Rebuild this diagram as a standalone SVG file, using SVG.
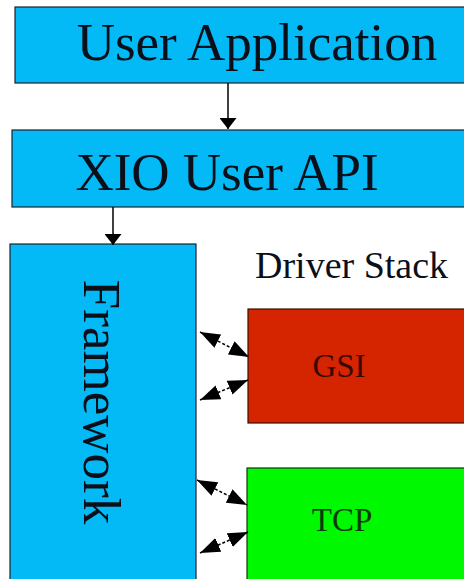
<svg xmlns="http://www.w3.org/2000/svg" width="464" height="579" viewBox="0 0 464 579">
<style>
text{fill:#0a0f1a}
.blue{fill:#03baf6;stroke:#1a2230;stroke-width:1.2}
.red{fill:#d42400;stroke:#3a1000;stroke-width:1.2}
.green{fill:#00f800;stroke:#0a3a0a;stroke-width:1.2}
.line{stroke:#000;stroke-width:1.5;fill:none}
.dash{stroke:#000;stroke-width:1.5;fill:none;stroke-dasharray:3 2}
</style>
<defs>
<marker id="ah" viewBox="0 0 10 10" refX="10" refY="5" markerWidth="11" markerHeight="17" markerUnits="userSpaceOnUse" orient="auto" preserveAspectRatio="none">
<path d="M0,0 L10,5 L0,10 Z" fill="#000"/>
</marker>
<marker id="dh" viewBox="0 0 10 10" refX="10" refY="5" markerWidth="20" markerHeight="15" markerUnits="userSpaceOnUse" orient="auto-start-reverse" preserveAspectRatio="none">
<path d="M0,0 L10,5 L0,10 Z" fill="#000"/>
</marker>
</defs>
<g id="user-application">
<rect class="blue" x="15" y="7" width="460" height="76"/>
<text x="257" y="60" font-family="'Liberation Serif', 'Times New Roman', 'DejaVu Serif', serif" font-size="53" text-anchor="middle">User Application</text>
</g>
<g id="xio-user-api">
<rect class="blue" x="12" y="130" width="460" height="77"/>
<text x="227" y="190" font-family="'Liberation Serif', 'Times New Roman', 'DejaVu Serif', serif" font-size="53" text-anchor="middle">XIO User API</text>
</g>
<g id="framework">
<rect class="blue" x="10" y="244" width="186" height="345"/>
<text transform="translate(84,402) rotate(90)" font-family="'Liberation Serif', 'Times New Roman', 'DejaVu Serif', serif" font-size="53" text-anchor="middle">Framework</text>
</g>
<g id="driver-stack-label">
<text x="255" y="278" font-family="'Liberation Serif', 'Times New Roman', 'DejaVu Serif', serif" font-size="38">Driver Stack</text>
</g>
<g id="gsi">
<rect class="red" x="248" y="309" width="230" height="114"/>
<text x="339" y="377" font-family="'Liberation Serif', 'Times New Roman', 'DejaVu Serif', serif" font-size="33" text-anchor="middle" style="fill:#3a0800">GSI</text>
</g>
<g id="tcp">
<rect class="green" x="247" y="468" width="230" height="130"/>
<text x="342" y="531" font-family="'Liberation Serif', 'Times New Roman', 'DejaVu Serif', serif" font-size="33" text-anchor="middle" style="fill:#0a3a0a">TCP</text>
</g>
<g id="connectors">
<line class="line" x1="228" y1="83" x2="228" y2="129" marker-end="url(#ah)"/>
<line class="line" x1="113" y1="207" x2="113" y2="245" marker-end="url(#ah)"/>
<line class="dash" x1="200" y1="332" x2="249" y2="357" marker-start="url(#dh)" marker-end="url(#dh)"/>
<line class="dash" x1="248" y1="380" x2="200" y2="400" marker-start="url(#dh)" marker-end="url(#dh)"/>
<line class="dash" x1="197" y1="480" x2="247" y2="505" marker-start="url(#dh)" marker-end="url(#dh)"/>
<line class="dash" x1="248" y1="532" x2="200" y2="553" marker-start="url(#dh)" marker-end="url(#dh)"/>
</g>
</svg>
